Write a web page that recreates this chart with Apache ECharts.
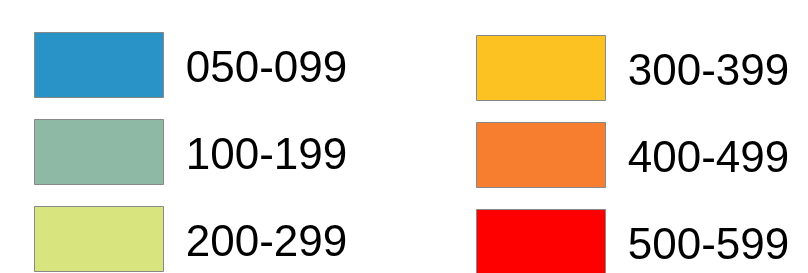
<!DOCTYPE html>
<html>
<head>
<meta charset="utf-8">
<script src="https://cdn.jsdelivr.net/npm/echarts@6/dist/echarts.min.js"></script>
<style>
  html, body { margin: 0; padding: 0; background: #fff; }
  #chart { width: 808px; height: 273px; }
</style>
</head>
<body>
<div id="chart"></div>
<script>
// kelas rentang dan warna
const leftRanges = ['050-099', '100-199', '200-299'];
const rightRanges = ['300-399', '400-499', '500-599'];
const rangeColors = ['#2992c6', '#8eb9a4', '#d8e47e', '#fcc221', '#f77e2f', '#ff0000'];

const allRanges = leftRanges.concat(rightRanges);

const chart = echarts.init(document.getElementById('chart'));

// buat seri kosong supaya legenda punya item
const series = allRanges.map((name, i) => ({
    name: name,
    type: 'bar',
    data: [],
    itemStyle: { color: rangeColors[i] }
}));

function makeLegend(names, left, top) {
    return {
        data: names,
        orient: 'vertical',
        left: left,
        top: top,
        width: 340,
        height: 400,
        padding: 0,
        icon: 'rect',
        itemWidth: 129,
        itemHeight: 65,
        itemGap: 21,
        selectedMode: false,
        itemStyle: { borderColor: '#888888', borderWidth: 1 },
        // teks sedikit diturunkan pakai token pengganjal
        formatter: name => '{s| }{t|' + name + '}',
        textStyle: {
            fontFamily: 'Liberation Sans, Arial, sans-serif',
            fontSize: 44,
            color: '#000',
            padding: [0, 0, 0, 17],
            rich: {
                s: { fontSize: 1, lineHeight: 54 },
                t: {
                    fontFamily: 'Liberation Sans, Arial, sans-serif',
                    fontSize: 44,
                    lineHeight: 50,
                    verticalAlign: 'bottom',
                    color: '#000'
                }
            }
        }
    };
}

chart.setOption({
    animation: false,
    backgroundColor: '#ffffff',
    grid: { left: 0, right: 0, top: 0, bottom: 0, show: false },
    xAxis: { type: 'category', show: false, data: [] },
    yAxis: { type: 'value', show: false },
    legend: [
        makeLegend(leftRanges, 34, 32),
        makeLegend(rightRanges, 476, 35)
    ],
    series: series
});
</script>
</body>
</html>
